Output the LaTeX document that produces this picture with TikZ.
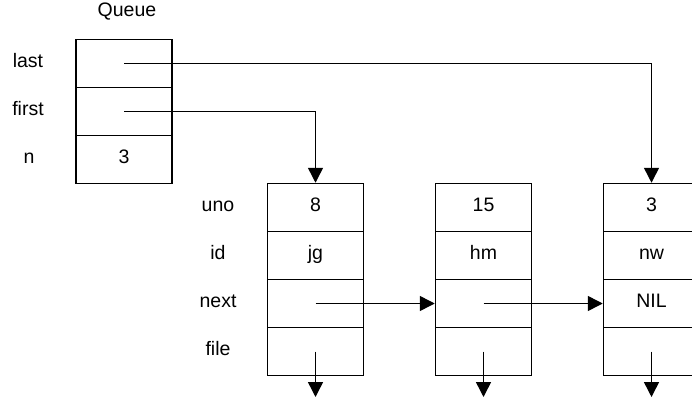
\documentclass[tikz,border=0pt]{standalone}
\usepackage{fontspec}
\setmainfont{Liberation Sans}
\usetikzlibrary{arrows.meta}
\begin{document}
\begin{tikzpicture}[x=1pt,y=-1pt,
  cell/.style={draw,line width=1.5pt,minimum width=96pt,minimum height=48pt,inner sep=0pt,
    text height=0.72em,text depth=0pt,font=\fontsize{19.5}{19.5}\selectfont},
  lbl/.style={inner sep=0pt,text height=0.72em,text depth=0pt,font=\fontsize{19.5}{19.5}\selectfont},
  ptr/.style={line width=1.5pt,-{Triangle[length=15pt,width=15pt]}}]
\useasboundingbox (0,0) rectangle (692,398);
\fill[white] (0,0) rectangle (692,398);
\clip (0,0) rectangle (692,398);
% Queue
\node[lbl] (qt) at (127,13) {Queue};
\node[cell] (ql) at (124,63.5) {};
\node[cell] (qf) at (124,111.5) {};
\node[cell] (qn) at (124,159.5) {3};
\node[lbl] (llast) at (28,63.5) {last};
\node[lbl] (lfirst) at (28,111.5) {first};
\node[lbl] (ln) at (29,159.5) {n};
% row labels
\node[lbl] (luno) at (218,207.5) {uno};
\node[lbl] (lid) at (218,255.5) {id};
\node[lbl] (lnext) at (218,303.5) {next};
\node[lbl] (lfile) at (218,351.5) {file};
% element 1
\node[cell] (a1) at (315.5,207.5) {8};
\node[cell] (a2) at (315.5,255.5) {jg};
\node[cell] (a3) at (315.5,303.5) {};
\node[cell] (a4) at (315.5,351.5) {};
% element 2
\node[cell] (b1) at (483.5,207.5) {15};
\node[cell] (b2) at (483.5,255.5) {hm};
\node[cell] (b3) at (483.5,303.5) {};
\node[cell] (b4) at (483.5,351.5) {};
% element 3
\node[cell] (c1) at (651.5,207.5) {3};
\node[cell] (c2) at (651.5,255.5) {nw};
\node[cell] (c3) at (651.5,303.5) {NIL};
\node[cell] (c4) at (651.5,351.5) {};
% free ends
\coordinate (ea) at (315.5,397);
\coordinate (eb) at (483.5,397);
\coordinate (ec) at (651.5,397);
% pointers
\draw[ptr] (ql.center) -| (c1.north);
\draw[ptr] (qf.center) -| (a1.north);
\draw[ptr] (a3.center) -- (b3.west);
\draw[ptr] (b3.center) -- (c3.west);
\draw[ptr] (a4.center) -- (ea);
\draw[ptr] (b4.center) -- (eb);
\draw[ptr] (c4.center) -- (ec);
\end{tikzpicture}
\end{document}
